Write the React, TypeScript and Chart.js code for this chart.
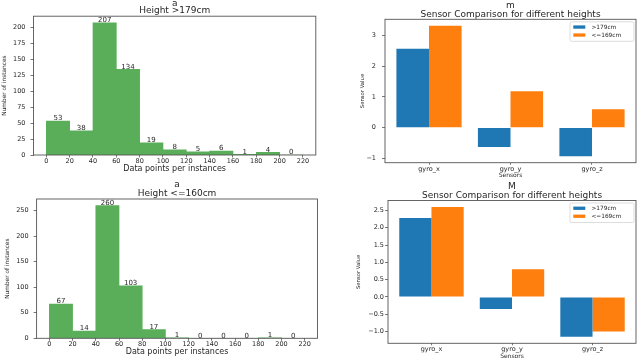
import React, { useEffect, useRef } from "react";
import { Chart, registerables } from "chart.js";

Chart.register(...registerables);

// ---------- data ----------
const binCenters = [10, 30, 50, 70, 90, 110, 130, 150, 170, 190, 210];
const histXTicks = [0, 20, 40, 60, 80, 100, 120, 140, 160, 180, 200, 220];
const tallCounts = [53, 38, 207, 134, 19, 8, 5, 6, 1, 4, 0];
const shortCounts = [67, 14, 260, 103, 17, 1, 0, 0, 0, 1, 0];
const tallYTicks = [0, 25, 50, 75, 100, 125, 150, 175, 200];
const shortYTicks = [0, 50, 100, 150, 200, 250];

const sensors = ["gyro_x", "gyro_y", "gyro_z"];
const sensorPositions = [0, 1, 2];
const mTall = [2.57, -0.63, -0.93];
const mShort = [3.32, 1.19, 0.6];
const MTall = [2.28, -0.35, -1.15];
const MShort = [2.6, 0.8, -1.0];
const mYTicks = [-1, 0, 1, 2, 3];
const MYTicks = [-1, -0.5, 0, 0.5, 1, 1.5, 2, 2.5];
const legendLabels = [">179cm", "<=169cm"];

// ---------- styles ----------
const FONT = "'DejaVu Sans', sans-serif";
const GREEN = "#5aae5a";
const BLUE = "#1f77b4";
const ORANGE = "#ff7f0e";
const TEXT = "#262626";
const AXIS = "#555555";

Chart.defaults.font.family = FONT;

const framePlugin = {
  id: "frame",
  afterDraw(chart: any) {
    const a = chart.chartArea;
    const ctx = chart.ctx;
    ctx.save();
    ctx.strokeStyle = AXIS;
    ctx.lineWidth = 0.9;
    ctx.strokeRect(a.left, a.top, a.right - a.left, a.bottom - a.top);
    ctx.restore();
  },
};

const barLabelPlugin = {
  id: "barLabels",
  afterDatasetsDraw(chart: any) {
    const ctx = chart.ctx;
    const meta = chart.getDatasetMeta(0);
    const data = chart.data.datasets[0].data;
    ctx.save();
    ctx.font = `7px ${FONT}`;
    ctx.fillStyle = TEXT;
    ctx.textAlign = "center";
    ctx.textBaseline = "alphabetic";
    meta.data.forEach((el: any, i: number) => {
      ctx.fillText(String(data[i].y), el.x, el.y - 0.8);
    });
    ctx.restore();
  },
};

const legendPlugin = {
  id: "boxLegend",
  afterDraw(chart: any) {
    const a = chart.chartArea;
    const ctx = chart.ctx;
    const bw = 64;
    const bh = 19.5;
    const bx = a.right - 2 - bw;
    const by = a.top + 2.5;
    ctx.save();
    ctx.fillStyle = "rgba(255,255,255,0.85)";
    ctx.strokeStyle = "#d4d4d4";
    ctx.lineWidth = 0.8;
    ctx.beginPath();
    (ctx as any).roundRect(bx, by, bw, bh, 1.5);
    ctx.fill();
    ctx.stroke();
    chart.data.datasets.forEach((ds: any, i: number) => {
      const cy = by + 5.2 + i * 8;
      ctx.fillStyle = ds.backgroundColor;
      ctx.fillRect(bx + 3.3, cy - 1.6, 12, 3.3);
      ctx.fillStyle = TEXT;
      ctx.font = `5.8px ${FONT}`;
      ctx.textAlign = "left";
      ctx.textBaseline = "middle";
      ctx.fillText(ds.label, bx + 21.5, cy);
    });
    ctx.restore();
  },
};

const minusFmt = (v: number, digits: number) =>
  (v < 0 ? "\u2212" : "") + Math.abs(v).toFixed(digits);

type Geo = {
  yWidth: number;
  xHeight: number;
  padRight: number;
  titleLH: number;
  titlePT: number;
  titlePB: number;
  xTitleSize: number;
  xTitlePB: number;
  yTitleSize: number;
  yTitlePT: number;
  yTickSize: number;
  yTickLen: number;
  yTickPad: number;
  xTickSize: number;
  xTickLen: number;
  xTickPad: number;
};

function baseOptions(
  geo: Geo,
  titleLines: string[],
  xTitle: string,
  yTitle: string,
  xRange: [number, number],
  yRange: [number, number],
  xTicks: number[],
  yTicks: number[],
  xLabel: (v: number, i: number) => string,
  yLabel: (v: number) => string
) {
  return {
    responsive: false,
    animation: false,
    devicePixelRatio: 1,
    events: [],
    layout: { padding: { left: 0, right: geo.padRight, top: 0, bottom: 0 } },
    plugins: {
      legend: { display: false },
      tooltip: { enabled: false },
      title: {
        display: true,
        text: titleLines,
        fullSize: false,
        color: TEXT,
        font: { size: 9, weight: "normal", lineHeight: `${geo.titleLH}px` },
        padding: { top: geo.titlePT, bottom: geo.titlePB },
      },
    },
    scales: {
      x: {
        type: "linear",
        min: xRange[0],
        max: xRange[1],
        offset: false,
        afterBuildTicks: (s: any) => {
          s.ticks = xTicks.map((v) => ({ value: v }));
        },
        afterFit: (s: any) => {
          s.height = geo.xHeight;
          s.paddingLeft = 0;
          s.paddingRight = 0;
        },
        ticks: {
          autoSkip: false,
          maxRotation: 0,
          minRotation: 0,
          color: TEXT,
          padding: geo.xTickPad,
          font: { size: geo.xTickSize },
          callback: (v: number, i: number) => xLabel(v, i),
        },
        grid: {
          display: true,
          offset: false,
          drawOnChartArea: false,
          drawTicks: true,
          tickLength: geo.xTickLen,
          color: AXIS,
          lineWidth: 0.8,
        },
        border: { display: false },
        title: {
          display: true,
          text: xTitle,
          color: TEXT,
          font: { size: geo.xTitleSize, lineHeight: 1.2 },
          padding: { top: 0, bottom: geo.xTitlePB },
        },
      },
      y: {
        type: "linear",
        min: yRange[0],
        max: yRange[1],
        afterBuildTicks: (s: any) => {
          s.ticks = yTicks.map((v) => ({ value: v }));
        },
        afterFit: (s: any) => {
          s.width = geo.yWidth;
          s.paddingTop = 0;
          s.paddingBottom = 0;
        },
        ticks: {
          autoSkip: false,
          color: TEXT,
          padding: geo.yTickPad,
          font: { size: geo.yTickSize },
          callback: (v: number) => yLabel(v),
        },
        grid: {
          display: true,
          drawOnChartArea: false,
          drawTicks: true,
          tickLength: geo.yTickLen,
          color: AXIS,
          lineWidth: 0.8,
        },
        border: { display: false },
        title: {
          display: true,
          text: yTitle,
          color: TEXT,
          font: { size: geo.yTitleSize, lineHeight: 1.2 },
          padding: { top: geo.yTitlePT, bottom: 0 },
        },
      },
    },
  };
}

function histConfig(counts: number[], yTicks: number[], titleLines: string[], geo: Geo) {
  const lo = histXTicks[0];
  const hi = histXTicks[histXTicks.length - 1];
  const span = hi - lo;
  const yMax = Math.max(...counts) * 1.05;
  return {
    type: "bar",
    data: {
      datasets: [
        {
          data: binCenters.map((c, i) => ({ x: c, y: counts[i] })),
          backgroundColor: GREEN,
          borderWidth: 0,
          barPercentage: 1,
          categoryPercentage: 1,
        },
      ],
    },
    options: baseOptions(
      geo,
      titleLines,
      "Data points per instances",
      "Number of instances",
      [lo - 0.05 * span, hi + 0.05 * span],
      [0, yMax],
      histXTicks,
      yTicks,
      (v) => String(v),
      (v) => String(v)
    ),
    plugins: [framePlugin, barLabelPlugin],
  };
}

function compareConfig(
  tall: number[],
  short: number[],
  yTicks: number[],
  digits: number,
  titleLines: string[],
  geo: Geo
) {
  const all = [...tall, ...short, 0];
  const mn = Math.min(...all);
  const mx = Math.max(...all);
  const sp = mx - mn;
  const xlo = sensorPositions[0] - 0.4;
  const xhi = sensorPositions[sensorPositions.length - 1] + 0.4;
  const xsp = xhi - xlo;
  return {
    type: "bar",
    data: {
      datasets: [
        {
          label: legendLabels[0],
          data: sensorPositions.map((p, i) => ({ x: p, y: tall[i] })),
          backgroundColor: BLUE,
          borderWidth: 0,
          barPercentage: 1,
          categoryPercentage: 0.8,
        },
        {
          label: legendLabels[1],
          data: sensorPositions.map((p, i) => ({ x: p, y: short[i] })),
          backgroundColor: ORANGE,
          borderWidth: 0,
          barPercentage: 1,
          categoryPercentage: 0.8,
        },
      ],
    },
    options: baseOptions(
      geo,
      titleLines,
      "Sensors",
      "Sensor Value",
      [xlo - 0.05 * xsp, xhi + 0.05 * xsp],
      [mn - 0.05 * sp, mx + 0.05 * sp],
      sensorPositions,
      yTicks,
      (_v, i) => sensors[i],
      (v) => minusFmt(v, digits)
    ),
    plugins: [framePlugin, legendPlugin],
  };
}

const geoTL: Geo = {
  yWidth: 33.5, xHeight: 25, padRight: 4.2,
  titleLH: 7.2, titlePT: 0, titlePB: 1.8,
  xTitleSize: 8, xTitlePB: 6.6, yTitleSize: 5.8, yTitlePT: 1.5,
  yTickSize: 6.5, yTickLen: 3, yTickPad: 5,
  xTickSize: 6.5, xTickLen: 2.5, xTickPad: 0.4,
};
const geoBL: Geo = {
  yWidth: 36.6, xHeight: 24.7, padRight: 2.5,
  titleLH: 8.3, titlePT: 0.85, titlePB: 1.55,
  xTitleSize: 8, xTitlePB: 6.2, yTitleSize: 5.8, yTitlePT: 3.8,
  yTickSize: 6.5, yTickLen: 3, yTickPad: 5,
  xTickSize: 6.5, xTickLen: 2.5, xTickPad: 0,
};
const geoTR: Geo = {
  yWidth: 65, xHeight: 17.3, padRight: 4,
  titleLH: 9, titlePT: 1.3, titlePB: 0,
  xTitleSize: 6, xTitlePB: 1.4, yTitleSize: 5.3, yTitlePT: 39.1,
  yTickSize: 6.5, yTickLen: 3, yTickPad: 6,
  xTickSize: 6.5, xTickLen: 2, xTickPad: 0.3,
};
const geoBR: Geo = {
  yWidth: 68, xHeight: 19.7, padRight: 4,
  titleLH: 9, titlePT: 2.5, titlePB: 0,
  xTitleSize: 6, xTitlePB: 2.7, yTitleSize: 5.3, yTitlePT: 35.6,
  yTickSize: 6.5, yTickLen: 3, yTickPad: 1,
  xTickSize: 6.5, xTickLen: 2, xTickPad: 0,
};

function Panel({ x, y, w, h, make }: { x: number; y: number; w: number; h: number; make: () => any }) {
  const ref = useRef<HTMLCanvasElement>(null);
  useEffect(() => {
    const chart = new Chart(ref.current as HTMLCanvasElement, make());
    return () => chart.destroy();
  }, []);
  return (
    <canvas
      ref={ref}
      width={w}
      height={h}
      style={{ position: "absolute", left: x, top: y, width: w, height: h }}
    />
  );
}

export default function App() {
  return (
    <div
      style={{
        position: "fixed",
        left: 0,
        top: 0,
        width: 640,
        height: 363,
        background: "#ffffff",
        overflow: "hidden",
      }}
    >
      <Panel x={0} y={0} w={320} h={180}
        make={() => histConfig(tallCounts, tallYTicks, ["a", "Height >179cm"], geoTL)} />
      <Panel x={320} y={0} w={320} h={180}
        make={() => compareConfig(mTall, mShort, mYTicks, 0, ["m", "Sensor Comparison for different heights"], geoTR)} />
      <Panel x={0} y={180} w={320} h={183}
        make={() => histConfig(shortCounts, shortYTicks, ["a", "Height <=160cm"], geoBL)} />
      <Panel x={320} y={180} w={320} h={183}
        make={() => compareConfig(MTall, MShort, MYTicks, 1, ["M", "Sensor Comparison for different heights"], geoBR)} />
    </div>
  );
}
